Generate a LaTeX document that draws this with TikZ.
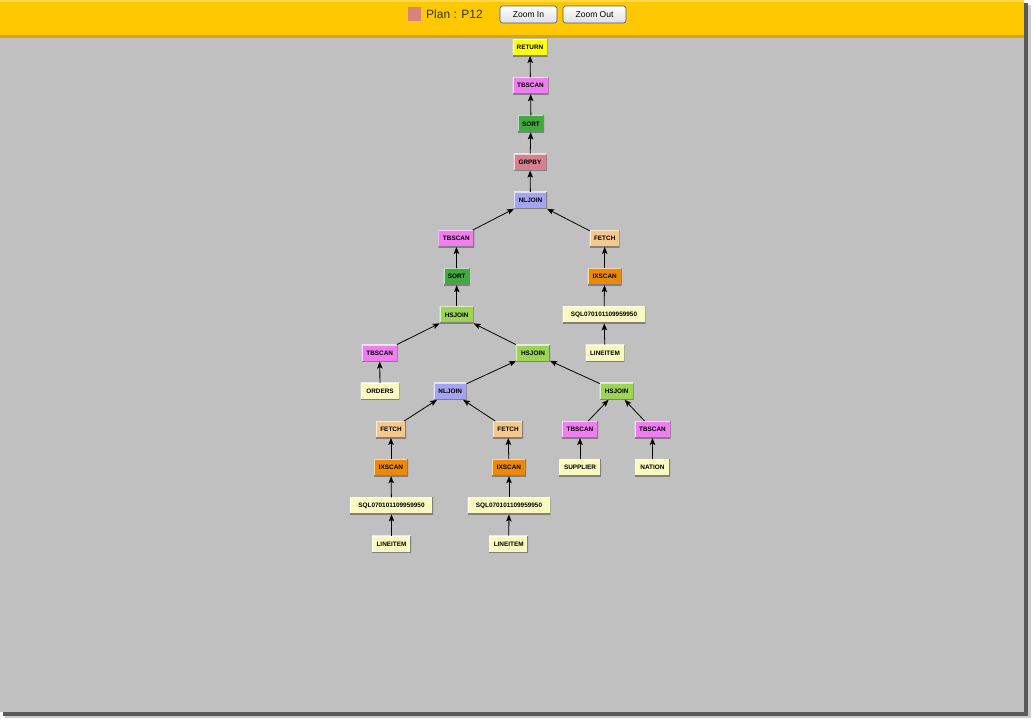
\documentclass[tikz,border=0pt]{standalone}
\usepackage{fontspec}
\setmainfont{Liberation Sans}
\usetikzlibrary{arrows.meta,shadings}
\definecolor{barY}{HTML}{FFC800}
\definecolor{barLine}{HTML}{D9A300}
\definecolor{winGray}{HTML}{C0C0C0}
\definecolor{cRet}{HTML}{FFFF10}
\definecolor{cTb}{HTML}{F07EF0}
\definecolor{cSort}{HTML}{40AA40}
\definecolor{cGrp}{HTML}{D8808F}
\definecolor{cNl}{HTML}{A4A4F2}
\definecolor{cFe}{HTML}{F5C88C}
\definecolor{cIx}{HTML}{EC8A08}
\definecolor{cHs}{HTML}{9CD455}
\definecolor{cLeaf}{HTML}{FAFAC0}
\definecolor{cSq}{HTML}{D8827A}
\tikzset{
  op/.style={inner sep=0pt, outer sep=0pt, minimum height=17pt,
    font=\fontsize{6.4}{7}\selectfont\bfseries, text=black,
    path picture={
      \draw[white, opacity=.65, line width=2pt] (path picture bounding box.south west) -- (path picture bounding box.north west) -- (path picture bounding box.north east);
      \draw[black!50, line width=2pt] (path picture bounding box.south west) -- (path picture bounding box.south east) -- (path picture bounding box.north east);
    }},
  ret/.style={op, fill=cRet, minimum width=35pt},
  tb/.style={op, fill=cTb, minimum width=36pt},
  srt/.style={op, fill=cSort, minimum width=26pt},
  grp/.style={op, fill=cGrp, minimum width=33pt},
  nl/.style={op, fill=cNl, minimum width=33pt},
  fe/.style={op, fill=cFe, minimum width=30pt},
  ix/.style={op, fill=cIx, minimum width=34pt},
  hs/.style={op, fill=cHs, minimum width=34pt},
  leaf/.style={op, fill=cLeaf, minimum width=39pt},
  sql/.style={op, fill=cLeaf, minimum width=83pt},
  arr/.style={-{Stealth[length=7pt,width=5.5pt,inset=1.5pt]}, line width=0.8pt, black},
  btn/.style={draw=black!65, line width=0.6pt, rounded corners=2.5pt, top color=white, bottom color=black!12,
    minimum height=17pt, inner sep=0pt, font=\fontsize{8.5}{10}\selectfont, text=black},
}
\begin{document}
\begin{tikzpicture}[x=1pt,y=-1pt]
\useasboundingbox (0,0) rectangle (1036,724);
\fill[white] (0,0) rectangle (1036,724);
% window shadow
\fill[black!20] (1026,5) rectangle (1031,718);
\fill[black!20] (5,713) rectangle (1031,718);
\fill[black!65] (1024,3) rectangle (1028,716);
\fill[black!65] (3,712) rectangle (1028,716);
% window
\fill[winGray] (0,0) rectangle (1024,712);
\fill[barY] (0,0) rectangle (1024,36);
\fill[barY!70!white] (0,0) rectangle (1024,1.5);
\fill[barLine] (0,34.5) rectangle (1024,37.5);
% header
\node[fill=cSq, inner sep=0pt, minimum width=13pt, minimum height=14pt] (sq) at (414.5,14) {};
\node[anchor=base west, inner sep=0pt, font=\fontsize{12}{14}\selectfont, text=black!80] (plan) at (426,18.5) {Plan : P12};
\node[btn, minimum width=57pt] (zin) at (528.5,14.5) {Zoom In};
\node[btn, minimum width=63pt] (zout) at (594.5,14.5) {Zoom Out};
% nodes
\node[ret] (ret) at (530,47.5) {RETURN};
\node[tb] (ts1) at (530.5,85.7) {TBSCAN};
\node[srt] (s1) at (531,123.9) {SORT};
\node[grp] (gb) at (530,162.1) {GRPBY};
\node[nl] (nl1) at (530.5,200.3) {NLJOIN};
\node[tb] (ts2) at (456.3,238.5) {TBSCAN};
\node[fe] (fe1) at (604.7,238.5) {FETCH};
\node[srt] (s2) at (456.7,276.7) {SORT};
\node[ix] (ix1) at (604.7,276.7) {IXSCAN};
\node[hs] (hs1) at (456.7,314.9) {HSJOIN};
\node[sql] (sq1) at (604,314.9) {SQL070101109959950};
\node[tb] (ts3) at (379.7,353.1) {TBSCAN};
\node[hs] (hs2) at (533,353.1) {HSJOIN};
\node[leaf] (li1) at (605,353.1) {LINEITEM};
\node[leaf] (ord) at (380,391.3) {ORDERS};
\node[nl] (nl2) at (450.2,391.3) {NLJOIN};
\node[hs] (hs3) at (616.7,391.3) {HSJOIN};
\node[fe] (fe2) at (391,429.5) {FETCH};
\node[fe] (fe3) at (508,429.5) {FETCH};
\node[tb] (ts4) at (580,429.5) {TBSCAN};
\node[tb] (ts5) at (652.5,429.5) {TBSCAN};
\node[ix] (ix2) at (391,467.7) {IXSCAN};
\node[ix] (ix3) at (509,467.7) {IXSCAN};
\node[leaf, minimum width=42pt] (sup) at (580,467.7) {SUPPLIER};
\node[leaf, minimum width=35pt] (nat) at (652.5,467.7) {NATION};
\node[sql] (sq2) at (391.5,505.9) {SQL070101109959950};
\node[sql] (sq3) at (509,505.9) {SQL070101109959950};
\node[leaf] (li2) at (391.5,544.1) {LINEITEM};
\node[leaf] (li3) at (508.7,544.1) {LINEITEM};
% edges
\draw[arr] (ts1) -- (ret);
\draw[arr] (s1) -- (ts1);
\draw[arr] (gb) -- (s1);
\draw[arr] (nl1) -- (gb);
\draw[arr] (ts2) -- (nl1);
\draw[arr] (fe1) -- (nl1);
\draw[arr] (s2) -- (ts2);
\draw[arr] (ix1) -- (fe1);
\draw[arr] (hs1) -- (s2);
\draw[arr] (sq1) -- (ix1);
\draw[arr] (ts3) -- (hs1);
\draw[arr] (hs2) -- (hs1);
\draw[arr] (li1) -- (sq1);
\draw[arr] (ord) -- (ts3);
\draw[arr] (nl2) -- (hs2);
\draw[arr] (hs3) -- (hs2);
\draw[arr] (fe2) -- (nl2);
\draw[arr] (fe3) -- (nl2);
\draw[arr] (ts4) -- (hs3);
\draw[arr] (ts5) -- (hs3);
\draw[arr] (ix2) -- (fe2);
\draw[arr] (ix3) -- (fe3);
\draw[arr] (sup) -- (ts4);
\draw[arr] (nat) -- (ts5);
\draw[arr] (sq2) -- (ix2);
\draw[arr] (sq3) -- (ix3);
\draw[arr] (li2) -- (sq2);
\draw[arr] (li3) -- (sq3);
\end{tikzpicture}
\end{document}
